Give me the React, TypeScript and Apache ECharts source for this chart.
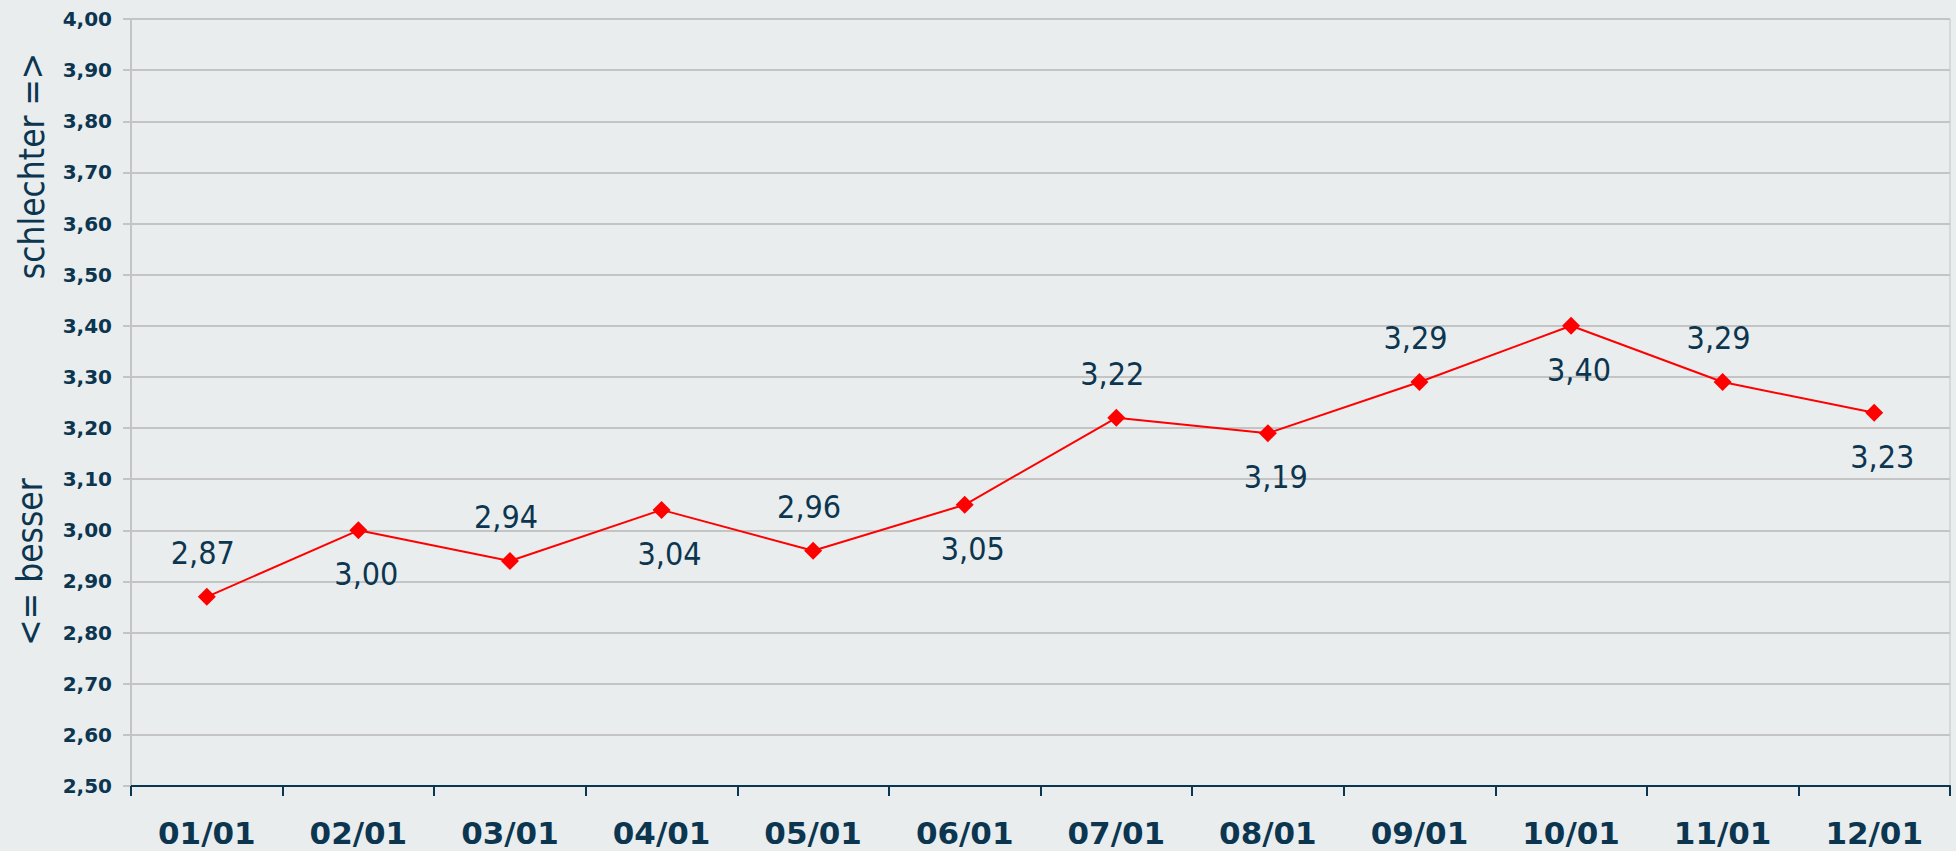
import React, { useEffect, useRef } from "react";
import * as echarts from "echarts";

const categories = ["01/01", "02/01", "03/01", "04/01", "05/01", "06/01", "07/01", "08/01", "09/01", "10/01", "11/01", "12/01"];
const values = [2.87, 3.0, 2.94, 3.04, 2.96, 3.05, 3.22, 3.19, 3.29, 3.4, 3.29, 3.23];
const labelAbove = [true, false, true, false, true, false, true, false, true, false, true, false];
const yMin = 2.5;
const yMax = 4.0;
const yStep = 0.1;
const axisNameTop = "schlechter =>";
const axisNameBottom = "<= besser";

const TEXT = "#0c3650";
const fmt = (v: number) => v.toFixed(2).replace(".", ",");

export default function App() {
  const ref = useRef<HTMLDivElement>(null);
  useEffect(() => {
    document.body.style.margin = "0";
    if (!ref.current) return;
    const chart = echarts.init(ref.current, undefined, { renderer: "svg" });
    const data = values.map((v, i) => ({
      value: v,
      label: {
        offset: labelAbove[i] ? [-4, -44] : [8, 44],
      },
    }));
    chart.setOption({
      animation: false,
      backgroundColor: "#e9edee",
      grid: {
        left: 131,
        right: 6,
        top: 19,
        bottom: 65,
        show: true,
        borderColor: "#c4c4c4",
        borderWidth: 1,
        backgroundColor: "transparent",
      },
      xAxis: {
        type: "category",
        data: categories,
        boundaryGap: true,
        axisLine: { lineStyle: { color: "#0c3650", width: 2 } },
        axisTick: { show: true, length: 10, lineStyle: { color: "#0c3650", width: 2 }, alignWithLabel: false },
        axisLabel: {
          color: TEXT,
          fontFamily: "DejaVu Sans",
          fontWeight: "bold",
          fontSize: 31,
          margin: 31,
          interval: 0,
        },
        splitLine: { show: false },
      },
      yAxis: {
        type: "value",
        min: yMin,
        max: yMax,
        interval: yStep,
        axisLine: { show: true, lineStyle: { color: "#c4c4c4", width: 2 } },
        axisTick: { show: true, length: 8, lineStyle: { color: "#c4c4c4", width: 2 } },
        axisLabel: {
          color: TEXT,
          fontFamily: "DejaVu Sans",
          fontWeight: "bold",
          fontSize: 20,
          margin: 19,
          formatter: (v: number) => fmt(v),
        },
        splitLine: { show: true, lineStyle: { color: "#c4c4c4", width: 2 } },
      },
      graphic: [
        {
          type: "text",
          x: 32,
          y: 166,
          rotation: Math.PI / 2,
          style: {
            text: axisNameTop,
            fill: TEXT,
            font: "35px 'DejaVu Sans Condensed', 'DejaVu Sans'",
            align: "center",
            verticalAlign: "middle",
          },
        },
        {
          type: "text",
          x: 30,
          y: 562,
          rotation: Math.PI / 2,
          style: {
            text: axisNameBottom,
            fill: TEXT,
            font: "35px 'DejaVu Sans Condensed', 'DejaVu Sans'",
            align: "center",
            verticalAlign: "middle",
          },
        },
      ],
      series: [
        {
          type: "line",
          data,
          symbol: "diamond",
          symbolSize: 18,
          lineStyle: { color: "#ff0000", width: 2 },
          itemStyle: { color: "#ff0000" },
          label: {
            show: true,
            position: "inside",
            color: TEXT,
            fontFamily: "'DejaVu Sans Condensed', 'DejaVu Sans'",
            fontSize: 32,
            formatter: (p: any) => fmt(p.value),
          },
        },
      ],
    });
    return () => chart.dispose();
  }, []);
  return <div ref={ref} style={{ width: 1956, height: 851 }} />;
}
